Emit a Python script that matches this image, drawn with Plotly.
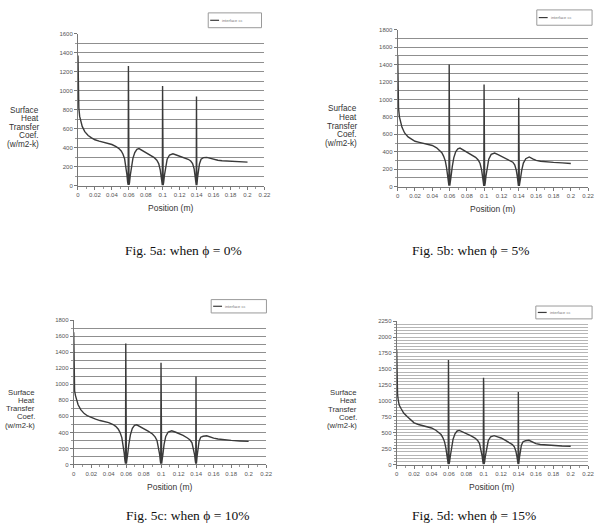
import plotly.graph_objects as go

# ---------------- data ----------------
POSITION = [0, 0.0003, 0.0006, 0.001, 0.002, 0.003, 0.005, 0.008, 0.012, 0.016,
            0.02, 0.025, 0.03, 0.035, 0.04, 0.045, 0.048, 0.051, 0.053, 0.055,
            0.0565, 0.0577, 0.0586, 0.0592, 0.0595, 0.0597, 0.0599, 0.0602, 0.0608, 0.0617,
            0.063, 0.0648, 0.067, 0.0695, 0.072, 0.076, 0.08, 0.085, 0.09, 0.093,
            0.0952, 0.097, 0.0982, 0.099, 0.0995, 0.0998, 0.1, 0.1002, 0.1005, 0.1011,
            0.102, 0.1033, 0.1052, 0.108, 0.112, 0.116, 0.12, 0.125, 0.13, 0.133,
            0.1352, 0.137, 0.1382, 0.139, 0.1395, 0.1398, 0.14, 0.1402, 0.1405, 0.1411,
            0.142, 0.1433, 0.1452, 0.148, 0.152, 0.156, 0.16, 0.165, 0.17, 0.18,
            0.19, 0.2]

H_PHI0 = [1370, 1050, 900, 820, 730, 685, 625, 570, 530, 505,
          485, 470, 458, 447, 435, 412, 395, 368, 335, 285,
          210, 120, 40, 10, 1260, 870, 580, 10, 35, 110,
          200, 290, 350, 385, 392, 372, 350, 325, 297, 270,
          235, 170, 100, 35, 8, 1050, 740, 500, 8, 40,
          110, 200, 280, 325, 338, 325, 312, 298, 280, 262,
          235, 180, 110, 40, 8, 940, 440, 8, 30, 90,
          160, 230, 280, 297, 300, 290, 278, 270, 264, 258,
          254, 250]

H_PHI5 = [1500, 1250, 1000, 900, 800, 745, 680, 615, 570, 545,
          520, 508, 498, 486, 472, 445, 420, 388, 350, 295,
          215, 125, 40, 10, 1400, 1250, 620, 10, 40, 120,
          225, 330, 400, 432, 442, 418, 396, 365, 336, 305,
          265, 190, 110, 40, 8, 1170, 800, 520, 8, 40,
          120, 225, 315, 370, 385, 368, 347, 325, 300, 280,
          250, 190, 115, 40, 8, 1020, 930, 460, 8, 35,
          100, 190, 270, 320, 340, 318, 300, 291, 285, 278,
          272, 265]

H_PHI10 = [1650, 1300, 1000, 920, 860, 810, 745, 685, 635, 605,
           585, 565, 548, 535, 522, 498, 475, 440, 398, 335,
           245, 140, 45, 10, 1510, 1370, 660, 10, 45, 130,
           250, 370, 450, 488, 495, 472, 452, 415, 380, 345,
           300, 215, 125, 45, 8, 1270, 1150, 570, 8, 45,
           130, 250, 350, 405, 420, 405, 390, 362, 330, 305,
           270, 200, 120, 45, 8, 1100, 490, 8, 35, 105,
           200, 290, 340, 352, 358, 342, 328, 318, 310, 300,
           293, 288]

H_PHI15 = [1800, 1450, 1200, 1100, 990, 930, 880, 810, 755, 700,
           655, 630, 610, 592, 575, 540, 512, 472, 425, 358,
           265, 150, 50, 10, 1640, 1100, 720, 10, 50, 140,
           270, 400, 485, 528, 537, 515, 495, 455, 418, 380,
           330, 235, 135, 50, 8, 1360, 1250, 600, 8, 50,
           140, 265, 375, 438, 455, 437, 418, 380, 340, 315,
           280, 210, 125, 45, 8, 1140, 530, 8, 40, 115,
           215, 305, 360, 375, 382, 355, 330, 317, 310, 299,
           293, 289]

X_TICKS = [0, 0.02, 0.04, 0.06, 0.08, 0.1, 0.12, 0.14, 0.16, 0.18, 0.2, 0.22]
X_TICK_LABELS = ["0", "0.02", "0.04", "0.06", "0.08", "0.1", "0.12", "0.14",
                 "0.16", "0.18", "0.2", "0.22"]

Y_MAX = [1600, 1800, 1800, 2250]
Y_LABEL_STEP = [200, 200, 200, 250]
Y_GRID_STEP = [100, 100, 100, 50]

SERIES_NAME = "interface cc"
X_TITLE = "Position (m)"
Y_TITLE_LINES = ["Surface", "Heat", "Transfer", "Coef.", "(w/m2-k)"]
CAPTIONS = ["Fig. 5a: when \u03d5 = 0%", "Fig. 5b: when \u03d5 = 5%",
            "Fig. 5c: when \u03d5 = 10%", "Fig. 5d: when \u03d5 = 15%"]
SERIES = [H_PHI0, H_PHI5, H_PHI10, H_PHI15]

# ---------------- layout geometry (pixels) ----------------
W, H = 603, 529


def px(x):
    return x / W


def py(y):
    return 1 - y / H


PLOT_BOX = [  # left, right, top, bottom
    (77, 266, 31, 185),
    (401, 594, 27, 185.7),
    (72.7, 267.7, 321, 466.7),
    (400, 594, 321.7, 467),
]
YT_RIGHT = [39, 361, 34, 361]
YT_LINES_Y = [
    [108.3, 117, 125.8, 134.5, 143.3],
    [106.7, 115.7, 124.5, 133.3, 142.3],
    [393.5, 401.9, 410.3, 418.7, 427.1],
    [394, 402.4, 410.8, 419.2, 427.6],
]
YT_SIZE = [8.2, 8.2, 7.7, 7.7]
LEGEND_BOX = [  # x0, x1, y0, y1
    (209, 263, 10, 25),
    (542, 598, 7, 22.5),
    (212, 268, 300, 313.5),
    (541, 598, 306.5, 319.5),
]
CAPTION_POS = [(184, 250), (474.5, 250), (188, 518), (478, 518)]
GRID_COLORS = ["#8f8f8f", "#8f8f8f", "#8f8f8f", "#b5b5b5"]

SANS = "Liberation Sans, Arial, sans-serif"
SERIF = "Liberation Serif, Times New Roman, serif"

fig = go.Figure()
layout = dict(
    width=W, height=H,
    margin=dict(l=0, r=0, t=0, b=0),
    paper_bgcolor="white", plot_bgcolor="white",
    showlegend=False,
)
annotations = []
shapes = []

for i in range(4):
    sfx = "" if i == 0 else str(i + 1)
    xa, ya = "x" + sfx, "y" + sfx
    l, r, t, b = PLOT_BOX[i]
    fig.add_trace(go.Scatter(
        x=POSITION, y=SERIES[i], mode="lines", name=SERIES_NAME,
        line=dict(color="#3a3a3a", width=1.4),
        xaxis=xa, yaxis=ya, hoverinfo="x+y",
    ))
    layout["xaxis" + sfx] = dict(
        domain=[px(l), px(r)], anchor=ya, range=[0, 0.22],
        tickvals=X_TICKS, ticktext=X_TICK_LABELS,
        showgrid=False, zeroline=False,
        showline=True, linecolor="#777", linewidth=1,
        ticks="outside", ticklen=3, tickcolor="#777",
        minor=dict(dtick=0.01, ticks="outside", ticklen=2, tickcolor="#999", showgrid=False),
        tickfont=dict(family=SANS, size=6, color="#555"),
        fixedrange=True,
    )
    layout["yaxis" + sfx] = dict(
        domain=[py(b), py(t)], anchor=xa, range=[0, Y_MAX[i]],
        dtick=Y_LABEL_STEP[i], tick0=0,
        showgrid=True, gridcolor=GRID_COLORS[i], gridwidth=1,
        minor=dict(dtick=Y_GRID_STEP[i], showgrid=True, gridcolor=GRID_COLORS[i],
                   gridwidth=1, ticks="outside", ticklen=2, tickcolor="#999"),
        zeroline=False,
        showline=True, linecolor="#777", linewidth=1,
        ticks="outside", ticklen=3, tickcolor="#777",
        tickfont=dict(family=SANS, size=6, color="#555"),
        fixedrange=True,
    )
    # x title
    cy_title = b + 22.5
    annotations.append(dict(
        text=X_TITLE, x=px((l + r) / 2), y=py(cy_title), xref="paper", yref="paper",
        xanchor="center", yanchor="middle", showarrow=False,
        font=dict(family=SANS, size=8.5, color="#333"),
    ))
    # y title lines (right aligned)
    for txt, yy in zip(Y_TITLE_LINES, YT_LINES_Y[i]):
        annotations.append(dict(
            text=txt, x=px(YT_RIGHT[i]), y=py(yy), xref="paper", yref="paper",
            xanchor="right", yanchor="middle", showarrow=False, borderpad=0,
            font=dict(family=SANS, size=YT_SIZE[i], color="#333"),
        ))
    # legend box
    x0, x1, y0, y1 = LEGEND_BOX[i]
    shapes.append(dict(type="rect", xref="paper", yref="paper",
                       x0=px(x0), x1=px(x1), y0=py(y1), y1=py(y0),
                       line=dict(color="#9a9a9a", width=1), fillcolor="white"))
    ym = (y0 + y1) / 2
    shapes.append(dict(type="line", xref="paper", yref="paper",
                       x0=px(x0 + 2), x1=px(x0 + 11), y0=py(ym), y1=py(ym),
                       line=dict(color="#3a3a3a", width=1.2)))
    annotations.append(dict(
        text=SERIES_NAME, x=px(x0 + 12), y=py(ym), xref="paper", yref="paper",
        xanchor="left", yanchor="middle", showarrow=False,
        font=dict(family=SANS, size=4, color="#777"),
    ))
    # caption
    cx, cy = CAPTION_POS[i]
    annotations.append(dict(
        text=CAPTIONS[i], x=px(cx), y=py(cy), xref="paper", yref="paper",
        xanchor="center", yanchor="middle", showarrow=False,
        font=dict(family=SERIF, size=13.5, color="#111"),
    ))

layout["annotations"] = annotations
layout["shapes"] = shapes
fig.update_layout(**layout)
fig.write_html(
    "out.html",
    config={"displayModeBar": False},
    post_script="document.body.style.margin='0px';document.body.style.overflow='hidden';",
)
